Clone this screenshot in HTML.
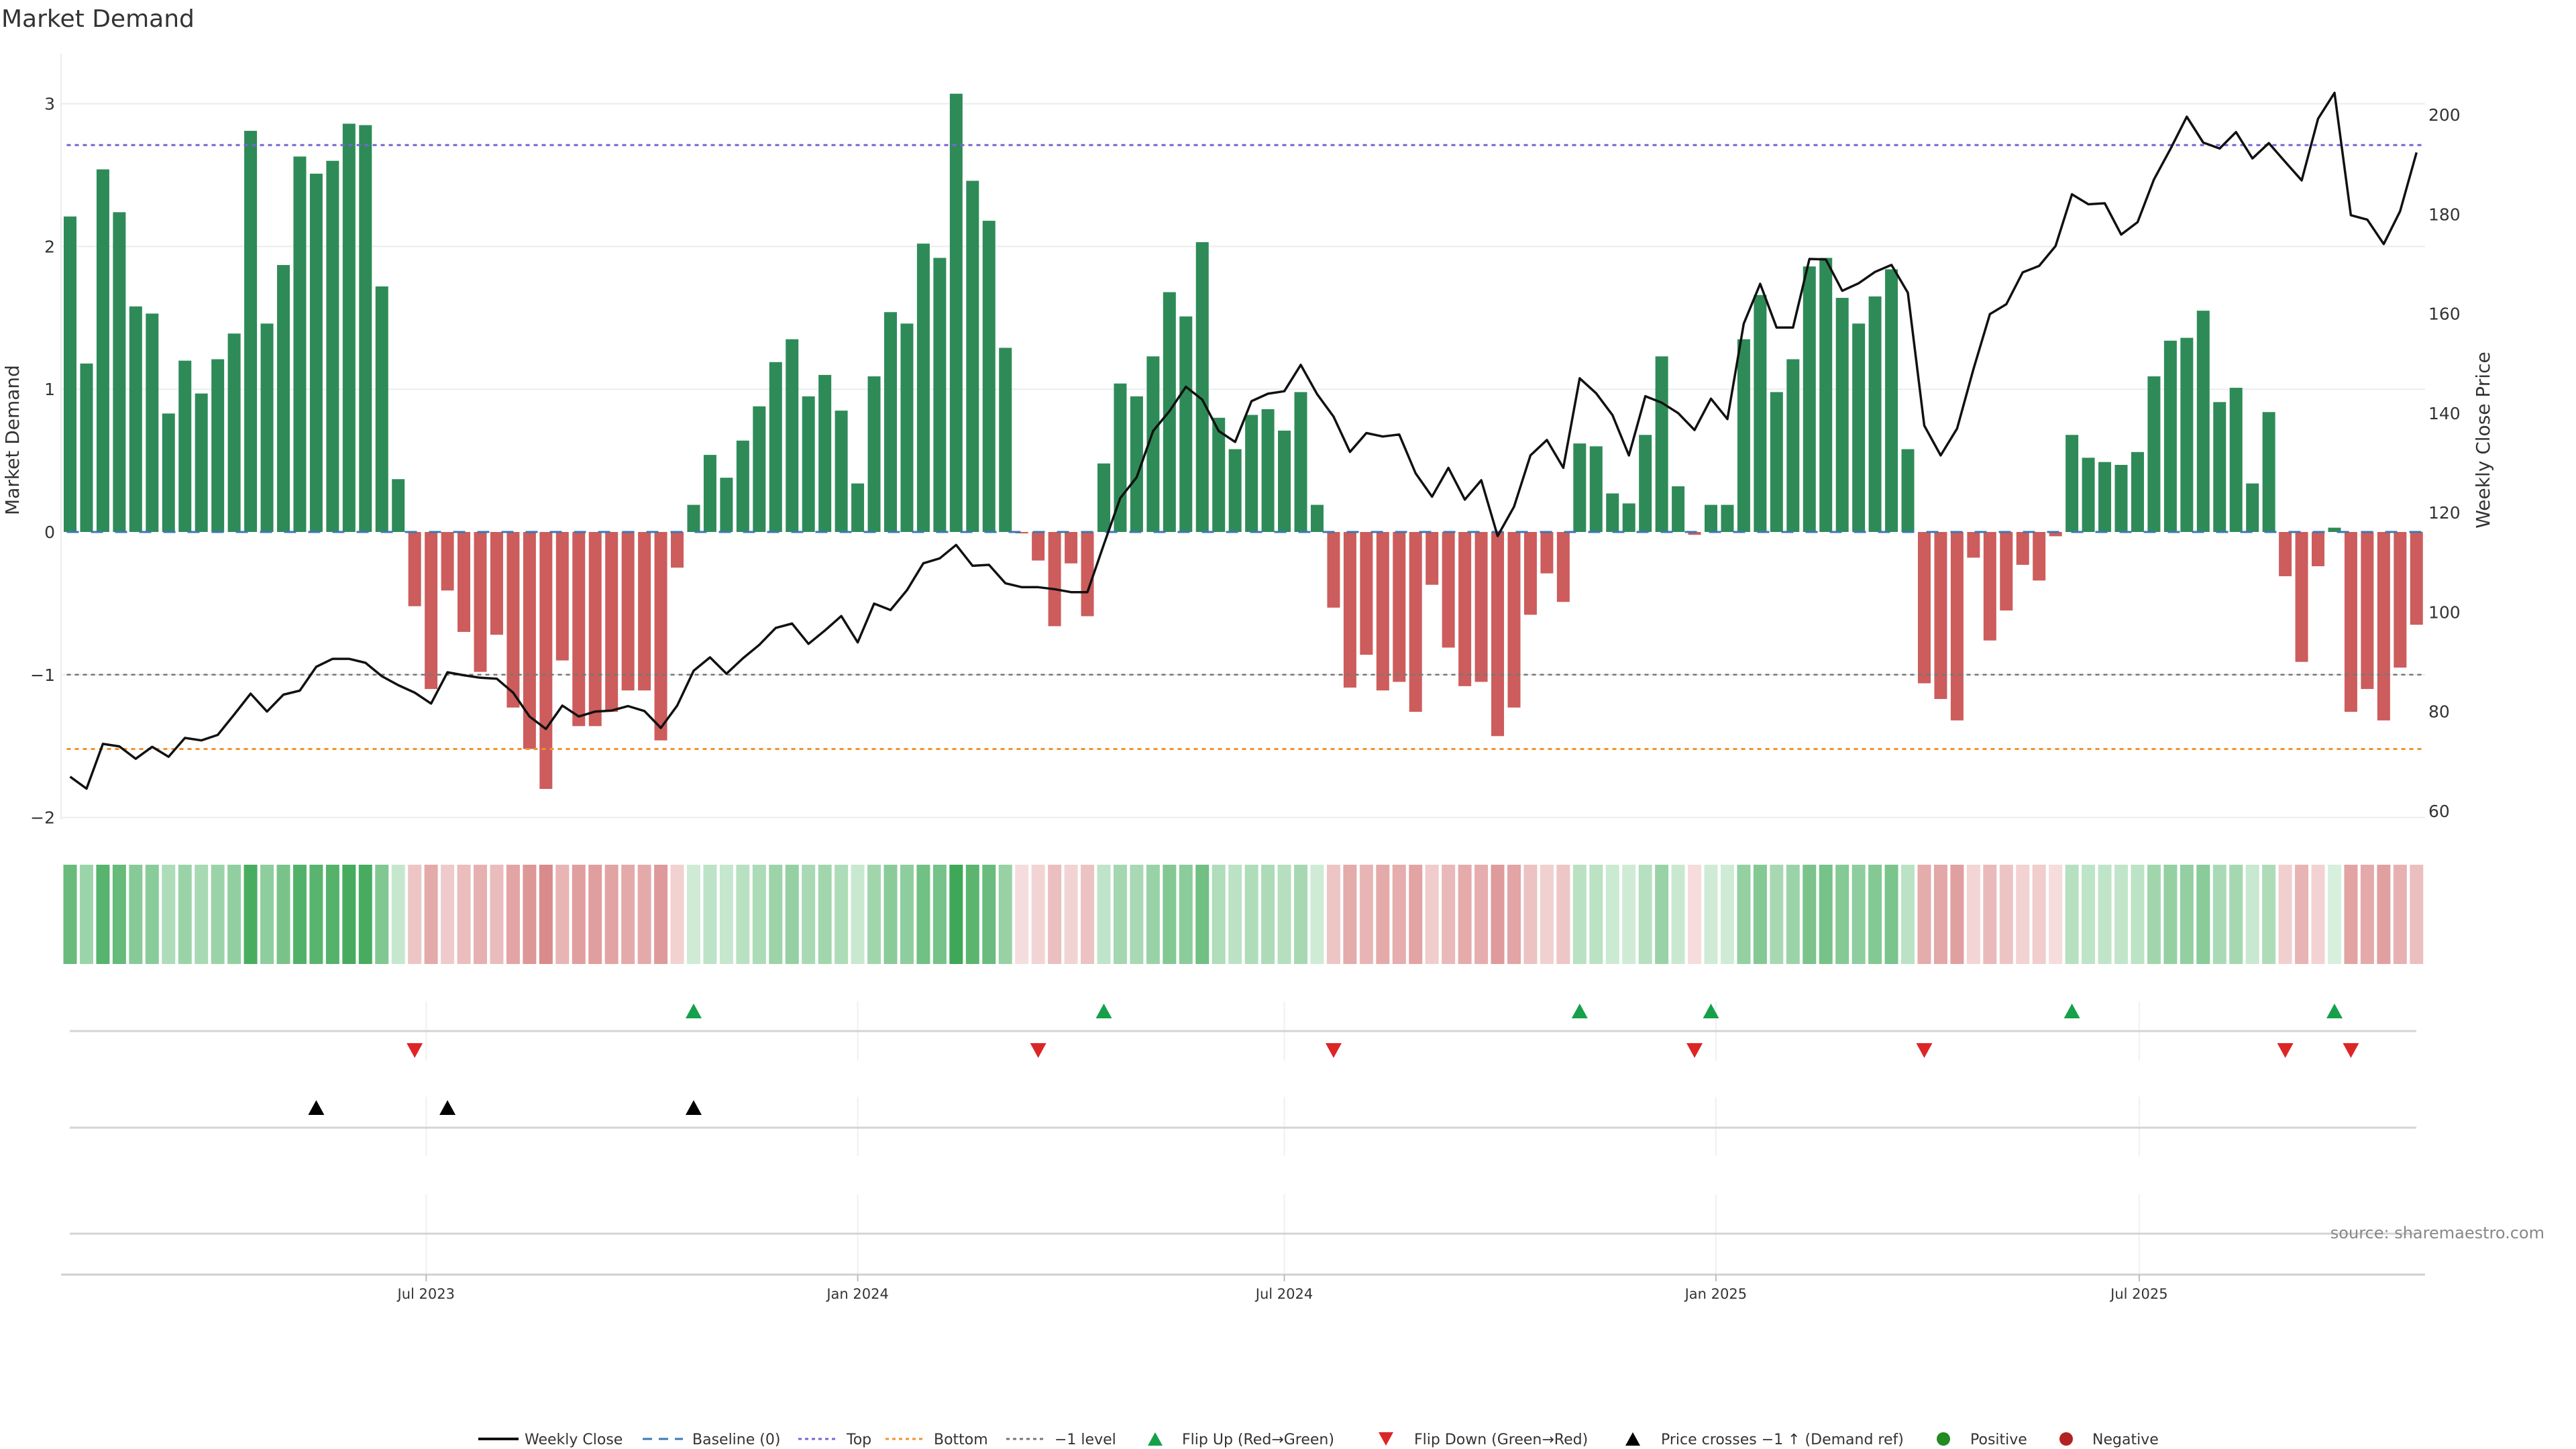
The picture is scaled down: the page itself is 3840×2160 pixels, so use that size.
<!DOCTYPE html>
<html><head><meta charset="utf-8"><title>Market Demand</title>
<style>
html,body{margin:0;padding:0;background:#fff;}
svg{display:block;font-family:"DejaVu Sans","Liberation Sans",sans-serif;}
</style></head>
<body>
<svg id="chart" width="3840" height="2160" viewBox="0 0 3840 2160" xmlns="http://www.w3.org/2000/svg">
<text x="2" y="40" font-size="36" fill="#333">Market Demand</text>
<g id="grid"></g>
<g id="bars"></g>
<g id="refs"></g>
<g id="price"></g>
<g id="heat"></g>
<g id="markers"></g>
<g id="axes"></g>
<text x="28" y="656" font-size="28" fill="#333" text-anchor="middle" transform="rotate(-90 28 656)">Market Demand</text>
<text x="3711" y="656" font-size="28" fill="#333" text-anchor="middle" transform="rotate(-90 3711 656)">Weekly Close Price</text>
<text x="3793" y="1846" font-size="24" fill="#888" text-anchor="end">source: sharemaestro.com</text>
<g id="legend"></g>
</svg>
<script>
const demand = [2.21,1.18,2.54,2.24,1.58,1.53,0.83,1.20,0.97,1.21,1.39,2.81,1.46,1.87,2.63,2.51,2.60,2.86,2.85,1.72,
0.37,-0.52,-1.10,-0.41,-0.70,-0.98,-0.72,-1.23,-1.52,-1.80,-0.90,-1.36,-1.36,-1.26,-1.11,-1.11,-1.46,-0.25,0.19,0.54,
0.38,0.64,0.88,1.19,1.35,0.95,1.10,0.85,0.34,1.09,1.54,1.46,2.02,1.92,3.07,2.46,2.18,1.29,-0.01,-0.20,
-0.66,-0.22,-0.59,0.48,1.04,0.95,1.23,1.68,1.51,2.03,0.80,0.58,0.82,0.86,0.71,0.98,0.19,-0.53,-1.09,-0.86,
-1.11,-1.05,-1.26,-0.37,-0.81,-1.08,-1.05,-1.43,-1.23,-0.58,-0.29,-0.49,0.62,0.60,0.27,0.20,0.68,1.23,0.32,-0.02,
0.19,0.19,1.35,1.66,0.98,1.21,1.86,1.92,1.64,1.46,1.65,1.84,0.58,-1.06,-1.17,-1.32,-0.18,-0.76,-0.55,-0.23,
-0.34,-0.03,0.68,0.52,0.49,0.47,0.56,1.09,1.34,1.36,1.55,0.91,1.01,0.34,0.84,-0.31,-0.91,-0.24,0.03,-1.26,
-1.10,-1.32,-0.95,-0.65];
const closePrice = [66.9,64.5,73.5,73.0,70.5,72.9,70.9,74.7,74.2,75.3,79.4,83.6,80.0,83.4,84.2,89.0,90.6,90.6,89.8,87.1,
85.3,83.8,81.6,87.9,87.3,86.8,86.6,83.8,79.0,76.5,81.2,79.0,80.0,80.2,81.1,80.1,76.7,81.2,88.2,90.9,
87.6,90.7,93.4,96.8,97.7,93.6,96.3,99.2,93.9,101.7,100.4,104.4,109.8,110.8,113.5,109.3,109.5,105.8,105.0,105.0,
104.6,104.0,104.0,113.6,122.9,127.1,136.4,140.4,145.3,142.7,136.4,134.2,142.4,143.9,144.4,149.7,143.8,139.3,132.2,136.0,
135.3,135.7,127.9,123.2,129.0,122.6,126.5,115.3,121.2,131.5,134.6,129.0,147.0,144.0,139.6,131.5,143.4,142.1,140.0,136.6,
142.9,138.8,158.0,166.0,157.2,157.2,171.0,170.9,164.6,166.1,168.4,169.8,164.2,137.5,131.5,136.9,148.9,159.9,161.9,168.3,
169.6,173.6,184.0,182.0,182.2,175.9,178.4,187.0,193.1,199.6,194.4,193.2,196.5,191.2,194.3,190.5,186.8,199.2,204.4,179.8,
178.9,174.0,180.6,192.4];
const flipUpIdx = [38,63,92,100,122,138];
const flipDownIdx = [21,59,77,99,113,135,139];
const crossIdx = [15,23,38];
const leftTicks = [3,2,1,0,-1,-2];
const leftTickLabels = ["3","2","1","0","\u22121","\u22122"];
const rightTicks = [200,180,160,140,120,100,80,60];
const dateTickLabels = ["Jul 2023","Jan 2024","Jul 2024","Jan 2025","Jul 2025"];
const dateTickWeeks = [21.7,48.0,74.0,100.3,126.1];
const topLevel = 2.71, bottomLevel = -1.52, minusOneLevel = -1.0;

const NS="http://www.w3.org/2000/svg";
function mk(tag, attrs, parent){const e=document.createElementNS(NS,tag);for(const k in attrs)e.setAttribute(k,attrs[k]);parent.appendChild(e);return e;}
const X0=104.5, DX=24.46;
function xs(i){return X0+i*DX;}
function yL(v){return 793-v*212.8;}
function yR(p){return 171+(200-p)*7.414;}
const PL=91, PR=3615;

const grid=document.getElementById('grid');
leftTicks.forEach((t,k)=>{
  if(t===0) return;
  const l=mk('line',{x1:PL,x2:PR,y1:yL(t),y2:yL(t),stroke:'#ececec','stroke-width':2},grid);
  
  
});
const ax=document.getElementById('axes');
let sp=mk('line',{x1:PL,x2:PL,y1:80,y2:1222,stroke:'#ececec','stroke-width':2},ax);


leftTicks.forEach((t,k)=>{
  const tx=mk('text',{x:82,y:yL(t)+9,'font-size':25,fill:'#333','text-anchor':'end'},ax);
  tx.textContent=leftTickLabels[k];
  
  
});
rightTicks.forEach(t=>{
  const tx=mk('text',{x:3620,y:yR(t)+9,'font-size':25,fill:'#333'},ax);
  tx.textContent=String(t);
  
  
});

const bars=document.getElementById('bars');
demand.forEach((v,i)=>{
  const y0=yL(0), y1=yL(v);
  const r=mk('rect',{x:xs(i)-9.5,y:Math.min(y0,y1),width:19,height:Math.max(Math.abs(y1-y0),1.5),fill:v>=0?'#2e8b57':'#cd5c5c'},bars);
  
  
});

const refs=document.getElementById('refs');
function hl(v,color,dash,name,w){
  const l=mk('line',{x1:xs(0)-5,x2:xs(demand.length-1)+10,y1:yL(v),y2:yL(v),stroke:color,'stroke-width':w||3,'stroke-dasharray':dash},refs);
  
  
}
hl(0,'#3a78b5','18 18','baseline-line',3);
hl(topLevel,'#7466d6','6 6','top-line',3);
hl(bottomLevel,'#f0922e','6 6','bottom-line',3);
hl(minusOneLevel,'#777','6 6','minus-one-line',2.5);

const pr=document.getElementById('price');
const pts=closePrice.map((p,i)=>xs(i).toFixed(1)+','+yR(p).toFixed(1)).join(' ');
const pl=mk('polyline',{points:pts,fill:'none',stroke:'#111','stroke-width':3.5,'stroke-linejoin':'round'},pr);



function mix(a,b,t){const pa=[parseInt(a.slice(1,3),16),parseInt(a.slice(3,5),16),parseInt(a.slice(5,7),16)];const pb=[parseInt(b.slice(1,3),16),parseInt(b.slice(3,5),16),parseInt(b.slice(5,7),16)];return 'rgb('+pa.map((c,k)=>Math.round(c+(pb[k]-c)*t)).join(',')+')';}
const heat=document.getElementById('heat');
demand.forEach((v,i)=>{
  let c;
  if(v>=0){c=mix('#d9f0de','#3fa858',Math.min(v/3.0,1));}
  else{c=mix('#f6dddd','#d98a8a',Math.min(-v/1.8,1));}
  const r=mk('rect',{x:xs(i)-10,y:1289,width:20,height:148,fill:c},heat);
  
  
});

const mkr=document.getElementById('markers');
[[1493,1581],[1635,1723],[1780,1900]].forEach(seg=>{
  dateTickWeeks.forEach(w=>{
    const l=mk('line',{x1:xs(w),x2:xs(w),y1:seg[0],y2:seg[1],stroke:'#eef0f3','stroke-width':2},mkr);
    
    
  });
});
[1537,1681,1839].forEach(y=>{
  const l=mk('line',{x1:104,x2:3602,y1:y,y2:y,stroke:'#d4d4d4','stroke-width':3},mkr);
  
  
});
function tri(i,y,up,color,name){
  const x=xs(i), h=11;
  const p=up?`${x-12},${y+h} ${x+12},${y+h} ${x},${y-h}`:`${x-12},${y-h} ${x+12},${y-h} ${x},${y+h}`;
  const t=mk('polygon',{points:p,fill:color},mkr);
  
  
}
flipUpIdx.forEach(i=>tri(i,1507,true,'#16a04a','flip-up-marker'));
flipDownIdx.forEach(i=>tri(i,1566,false,'#dc2626','flip-down-marker'));
crossIdx.forEach(i=>tri(i,1651,true,'#000','price-cross-marker'));

let xa=mk('line',{x1:PL,x2:PR,y1:1900,y2:1900,stroke:'#d0d0d0','stroke-width':3},ax);


dateTickWeeks.forEach((w,k)=>{
  const tk=mk('line',{x1:xs(w),x2:xs(w),y1:1900,y2:1910,stroke:'#bbb','stroke-width':2},ax);
  
  
  const tx=mk('text',{x:xs(w),y:1936,'font-size':21,fill:'#333','text-anchor':'middle'},ax);
  tx.textContent=dateTickLabels[k];
  
  
});

const lg=document.getElementById('legend');
const LY=2145;
function ltext(x,s){const t=mk('text',{x:x,y:LY+8,'font-size':22,fill:'#333'},lg);t.textContent=s;}
function lline(x1,x2,color,dash,w){const l=mk('line',{x1:x1,x2:x2,y1:LY,y2:LY,stroke:color,'stroke-width':w,'stroke-dasharray':dash},lg);}
lline(713,773,'#111','none',4); ltext(782,'Weekly Close');
lline(958,1018,'#3a78b5','14 10',3); ltext(1032,'Baseline (0)');
lline(1190,1250,'#7466d6','5 5',3); ltext(1262,'Top');
lline(1320,1380,'#f0922e','5 5',3); ltext(1392,'Bottom');
lline(1500,1560,'#777','5 5',3); ltext(1572,'\u22121 level');
function ltri(x,up,color){const h=10;const p=up?`${x-11},${LY+h} ${x+11},${LY+h} ${x},${LY-h}`:`${x-11},${LY-h} ${x+11},${LY-h} ${x},${LY+h}`;const t=mk('polygon',{points:p,fill:color},lg);}
ltri(1722,true,'#16a04a'); ltext(1762,'Flip Up (Red\u2192Green)');
ltri(2066,false,'#dc2626'); ltext(2108,'Flip Down (Green\u2192Red)');
ltri(2434,true,'#000'); ltext(2476,'Price crosses \u22121 \u2191 (Demand ref)');
let c1=mk('circle',{cx:2897,cy:LY,r:10,fill:'#228b22'},lg);  
ltext(2937,'Positive');
let c2=mk('circle',{cx:3080,cy:LY,r:10,fill:'#b22222'},lg);  
ltext(3119,'Negative');
</script>
</body></html>
